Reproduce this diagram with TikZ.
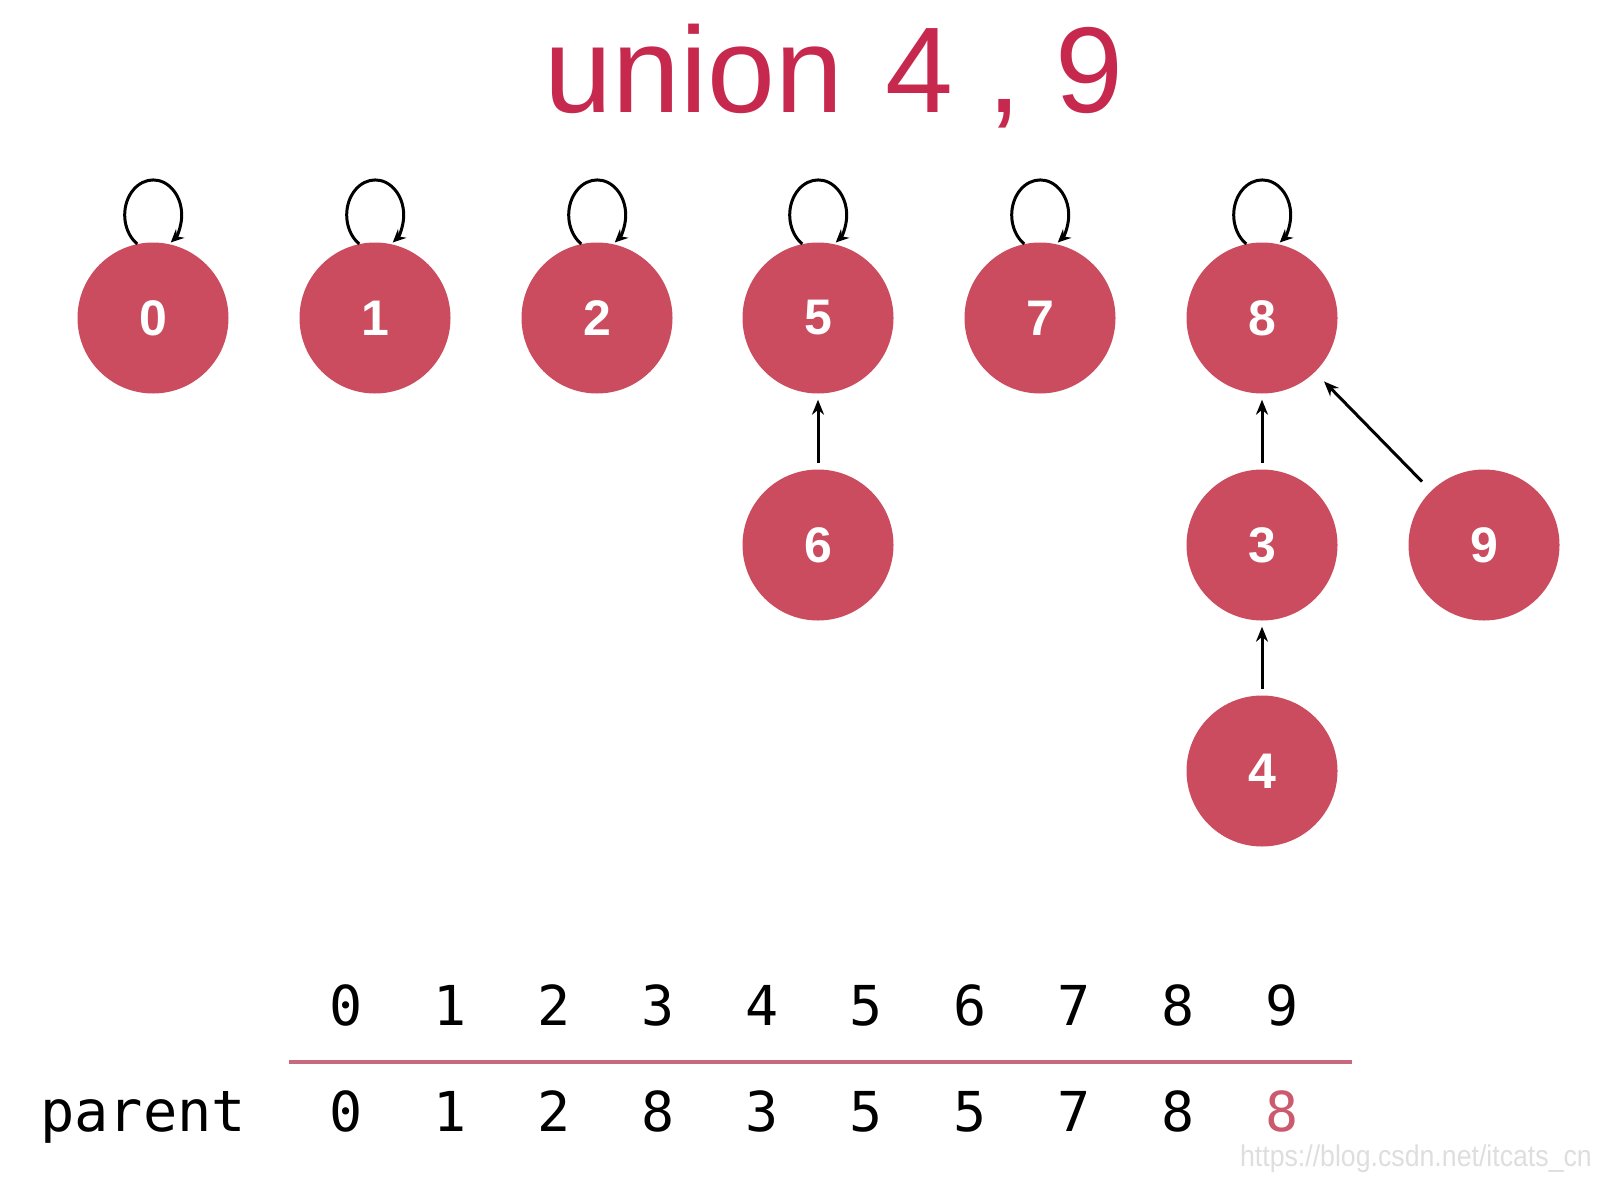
\documentclass[tikz,border=0pt]{standalone}
\usepackage{fontspec}
\setmainfont{Liberation Sans}
\newfontfamily\tabfont{DejaVu Sans Mono}
\usetikzlibrary{arrows.meta}
\definecolor{nodered}{RGB}{202,76,94}
\definecolor{titlered}{RGB}{198,40,78}
\definecolor{linepink}{RGB}{200,105,125}
\definecolor{hlred}{RGB}{204,90,110}
\definecolor{wmgray}{RGB}{222,222,222}
\tikzset{
  uf/.style={circle, fill=nodered, minimum size=151pt, inner sep=0pt, text=white,
    font=\fontsize{50}{50}\selectfont\bfseries},
  selfloop/.style={line width=3pt, -{Stealth[length=13pt,width=12pt]}},
  edge/.style={line width=3pt, -{Stealth[length=15pt,width=12pt]}, shorten >=6pt, shorten <=6pt},
  diag/.style={edge, shorten >=13pt, shorten <=13pt},
  tab/.style={anchor=base, inner sep=0pt, font=\tabfont\fontsize{55}{55}\selectfont},
}
\begin{document}
\begin{tikzpicture}[x=1pt,y=-1pt]
\useasboundingbox (0,0) rectangle (1600,1180);
% title
\node[anchor=base, inner sep=0pt, text=titlered, font=\fontsize{122}{122}\selectfont] (title) at (834,113) {union\hspace{9pt} 4 , 9};
% nodes
\node[uf] (n0) at (153,318) {0};
\node[uf] (n1) at (375,318) {1};
\node[uf] (n2) at (597,318) {2};
\node[uf] (n5) at (818,318) {5};
\node[uf] (n7) at (1040,318) {7};
\node[uf] (n8) at (1262,318) {8};
\node[uf] (n6) at (818,545) {6};
\node[uf] (n3) at (1262,545) {3};
\node[uf] (n9) at (1484,545) {9};
\node[uf] (n4) at (1262,771) {4};
% self loops
\foreach \n in {n0,n1,n2,n5,n7,n8}{
  \draw[selfloop] (\n.102) arc[start angle=124, end angle=412, x radius=28.5, y radius=35];
}
% edges
\draw[edge] (n6) -- (n5);
\draw[edge] (n3) -- (n8);
\draw[edge] (n4) -- (n3);
\draw[diag] (n9) -- (n8);
% table
\foreach \i in {0,...,9}{
  \node[tab] (h\i) at ({346+104*\i},1025) {\i};
}
\coordinate (lineL) at (289,1062);
\coordinate (lineR) at (1352,1062);
\draw[linepink, line width=4pt] (lineL) -- (lineR);
\node[tab, anchor=base west, font=\tabfont\fontsize{57}{57}\selectfont] (plabel) at (40,1131) {parent};
\foreach \i/\v in {0/0,1/1,2/2,3/8,4/3,5/5,6/5,7/7,8/8}{
  \node[tab] (p\i) at ({346+104*\i},1131) {\v};
}
\node[tab, text=hlred] (p9) at ({346+104*9},1131) {8};
% watermark
\node[anchor=base east, inner sep=0pt, text=wmgray, font=\fontsize{30}{30}\selectfont] (wm) at (1592,1166) {\scalebox{0.89}[1]{https://blog.csdn.net/itcats\_cn}};
\end{tikzpicture}
\end{document}
